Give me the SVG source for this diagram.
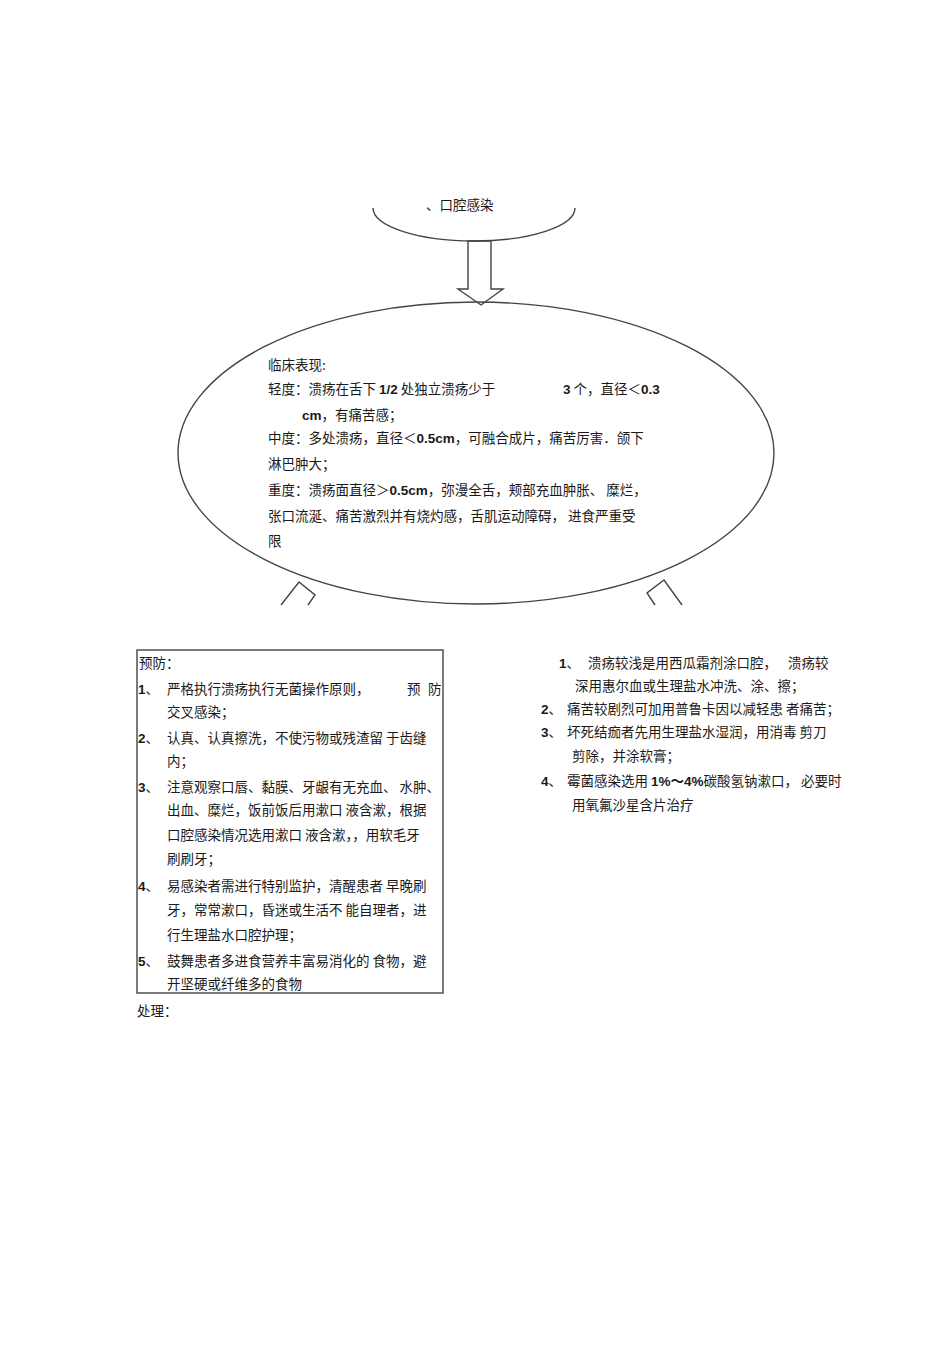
<svg xmlns="http://www.w3.org/2000/svg" width="950" height="1345" viewBox="0 0 950 1345">
<style>
text{font-family:"Noto Sans CJK SC","Liberation Sans",sans-serif;font-size:13.5px;fill:#1a1a1a}
.b{font-family:"Liberation Sans","Noto Sans CJK SC",sans-serif;font-weight:bold}
.ln{fill:none;stroke:#444;stroke-width:1.4}
</style>
<rect width="950" height="1345" fill="#fff"/>
<g id="connectors">
<polygon class="ln" fill="#fff" points="468,241 468,289 458,289 481,305 503,289 491,289 491,241"/>
<polyline class="ln" points="281,605 299,582 315,595 308,605"/>
<polyline class="ln" points="655,605 647,593 664,580 682,605"/>
</g>
<g id="node-top">
<path class="ln" d="M373,208 A101,33 0 0 0 575,208"/>
<text x="426" y="210">、口腔感染</text>
</g>
<g id="node-clinical">
<ellipse class="ln" cx="476" cy="453" rx="298" ry="151"/>
<text x="268" y="370">临床表现:</text>
<text x="268" y="394">轻度：溃疡在舌下 <tspan class="b">1/2</tspan> 处独立溃疡少于</text>
<text x="563" y="394"><tspan class="b">3</tspan> 个，直径＜<tspan class="b">0.3</tspan></text>
<text x="302" y="420"><tspan class="b">cm</tspan>，有痛苦感；</text>
<text x="268" y="443">中度：多处溃疡，直径＜<tspan class="b">0.5cm</tspan>，可融合成片，痛苦厉害．颌下</text>
<text x="268" y="469">淋巴肿大；</text>
<text x="268" y="495">重度：溃疡面直径＞<tspan class="b">0.5cm</tspan>，弥漫全舌，颊部充血肿胀、 糜烂，</text>
<text x="268" y="521">张口流涎、痛苦激烈并有烧灼感，舌肌运动障碍， 进食严重受</text>
<text x="268" y="546">限</text>
</g>
<g id="node-prevention">
<rect class="ln" x="137" y="650" width="306" height="343"/>
<text x="139" y="668">预防：</text>
<text x="138" y="694"><tspan class="b">1</tspan>、</text>
<text x="167" y="694">严格执行溃疡执行无菌操作原则，</text>
<text x="407" y="694">预</text>
<text x="428" y="694">防</text>
<text x="167" y="717">交叉感染；</text>
<text x="138" y="743"><tspan class="b">2</tspan>、</text>
<text x="167" y="743">认真、认真擦洗，不使污物或残渣留 于齿缝</text>
<text x="167" y="766">内；</text>
<text x="138" y="792"><tspan class="b">3</tspan>、</text>
<text x="167" y="792">注意观察口唇、黏膜、牙龈有无充血、 水肿、</text>
<text x="167" y="815">出血、糜烂，饭前饭后用漱口 液含漱，根据</text>
<text x="167" y="840">口腔感染情况选用漱口 液含漱，，用软毛牙</text>
<text x="167" y="864">刷刷牙；</text>
<text x="138" y="891"><tspan class="b">4</tspan>、</text>
<text x="167" y="891">易感染者需进行特别监护，清醒患者 早晚刷</text>
<text x="167" y="915">牙，常常漱口，昏迷或生活不 能自理者，进</text>
<text x="167" y="940">行生理盐水口腔护理；</text>
<text x="138" y="966"><tspan class="b">5</tspan>、</text>
<text x="167" y="966">鼓舞患者多进食营养丰富易消化的 食物，避</text>
<text x="167" y="989">开坚硬或纤维多的食物</text>
</g>
<g id="node-treatment-label">
<text x="137" y="1016">处理：</text>
</g>
<g id="node-treatment">
<text x="559" y="668"><tspan class="b">1</tspan>、</text>
<text x="588" y="668">溃疡较浅是用西瓜霜剂涂口腔，</text>
<text x="788" y="668">溃疡较</text>
<text x="575" y="691">深用惠尔血或生理盐水冲洗、涂、擦；</text>
<text x="541" y="714"><tspan class="b">2</tspan>、</text>
<text x="567" y="714">痛苦较剧烈可加用普鲁卡因以减轻患 者痛苦；</text>
<text x="541" y="737"><tspan class="b">3</tspan>、</text>
<text x="567" y="737">坏死结痂者先用生理盐水湿润，用消毒 剪刀</text>
<text x="572" y="761">剪除，并涂软膏；</text>
<text x="541" y="786"><tspan class="b">4</tspan>、</text>
<text x="567" y="786">霉菌感染选用 <tspan class="b">1%～4%</tspan>碳酸氢钠漱口， 必要时</text>
<text x="572" y="810">用氧氟沙星含片治疗</text>
</g>
</svg>
